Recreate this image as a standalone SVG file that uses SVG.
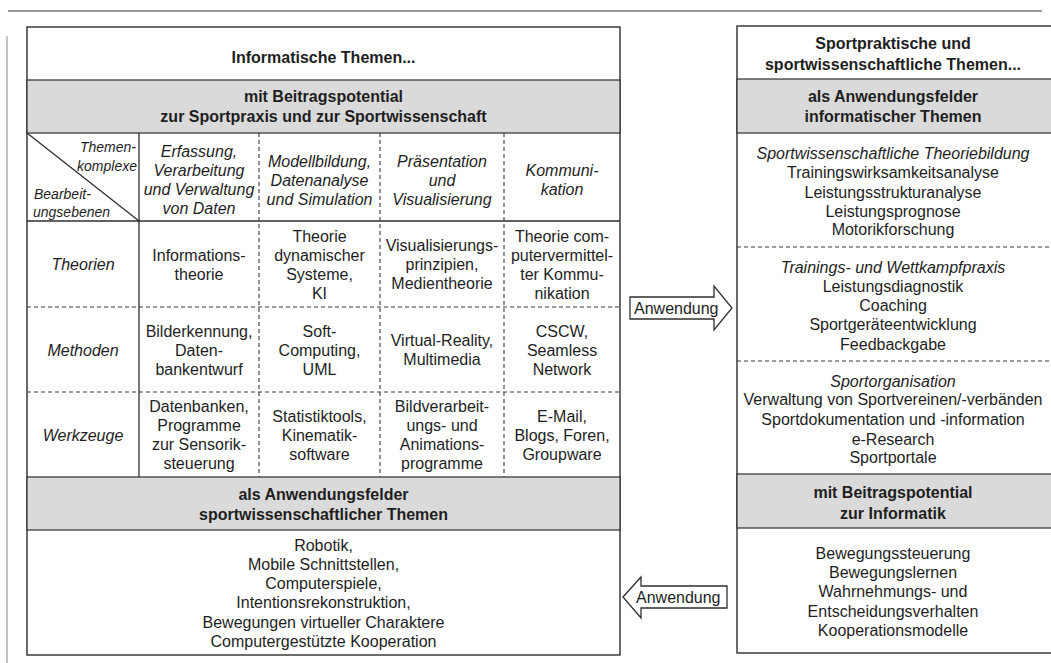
<svg xmlns="http://www.w3.org/2000/svg" width="1051" height="663" viewBox="0 0 1051 663">
<style>
text{font-family:"Liberation Sans",Arial,Helvetica,sans-serif;font-size:16px;fill:#1e1e1e;text-anchor:middle}
.b{font-weight:bold}
.i{font-style:italic}
.s{font-size:14px}
.st{text-anchor:start}
.en{text-anchor:end}
.box{fill:#fff;stroke:#2e2e2e;stroke-width:1.4}
.gray{fill:#dadada;stroke:#2e2e2e;stroke-width:1.2}
.ln{stroke:#2e2e2e;stroke-width:1.3;fill:none}
.ds{stroke:#3a3a3a;stroke-width:1.1;stroke-dasharray:4 3;fill:none}
.arr{fill:#fff;stroke:#2e2e2e;stroke-width:1.3;stroke-linejoin:miter}
.edge{stroke:#777;stroke-width:1.4;fill:none}
</style>
<rect x="0" y="0" width="1051" height="663" fill="#fff"/>
<line class="edge" x1="8" y1="11" x2="1042" y2="11"/>
<line class="edge" x1="7" y1="36" x2="7" y2="663" style="stroke:#aaa"/>

<g id="left-box">
<rect class="box" x="27" y="27" width="593" height="628"/>
<rect class="gray" x="27" y="80" width="593" height="53"/>
<rect class="gray" x="27" y="477" width="593" height="53"/>
<text class="b" x="323.5" y="63">Informatische Themen...</text>
<text class="b" x="323.5" y="102">mit Beitragspotential</text>
<text class="b" x="323.5" y="122">zur Sportpraxis und zur Sportwissenschaft</text>
<text class="b" x="323.5" y="500">als Anwendungsfelder</text>
<text class="b" x="323.5" y="520">sportwissenschaftlicher Themen</text>
<text x="323.5" y="550.5">Robotik,</text>
<text x="323.5" y="569.8">Mobile Schnittstellen,</text>
<text x="323.5" y="589.1">Computerspiele,</text>
<text x="323.5" y="608.4">Intentionsrekonstruktion,</text>
<text x="323.5" y="627.7">Bewegungen virtueller Charaktere</text>
<text x="323.5" y="647">Computergestützte Kooperation</text>
</g>

<g id="table-grid">
<line class="ln" x1="27" y1="221" x2="620" y2="221"/>
<line class="ln" x1="139" y1="133" x2="139" y2="477"/>
<line class="ln" x1="27" y1="133" x2="139" y2="221"/>
<line class="ds" x1="259" y1="133" x2="259" y2="477"/>
<line class="ds" x1="380" y1="133" x2="380" y2="477"/>
<line class="ds" x1="504" y1="133" x2="504" y2="477"/>
<line class="ds" x1="27" y1="307" x2="620" y2="307"/>
<line class="ds" x1="27" y1="392" x2="620" y2="392"/>
</g>

<g id="table-header">
<text class="i s en" x="136" y="152">Themen-</text>
<text class="i s en" x="137" y="171">komplexe</text>
<text class="i s st" x="34" y="199">Bearbeit-</text>
<text class="i s st" x="33" y="217">ungsebenen</text>
<text class="i" x="199" y="156.5">Erfassung,</text>
<text class="i" x="199" y="175.5">Verarbeitung</text>
<text class="i" x="199" y="194.5">und Verwaltung</text>
<text class="i" x="199" y="213.5">von Daten</text>
<text class="i" x="319.5" y="167">Modellbildung,</text>
<text class="i" x="319.5" y="186">Datenanalyse</text>
<text class="i" x="319.5" y="205">und Simulation</text>
<text class="i" x="442" y="167">Präsentation</text>
<text class="i" x="442" y="186">und</text>
<text class="i" x="442" y="205">Visualisierung</text>
<text class="i" x="562" y="175.5">Kommuni-</text>
<text class="i" x="562" y="194.5">kation</text>
</g>

<g id="row-theorien">
<text class="i" x="83" y="270">Theorien</text>
<text x="199" y="260.5">Informations-</text>
<text x="199" y="279.5">theorie</text>
<text x="319.5" y="241.5">Theorie</text>
<text x="319.5" y="260.5">dynamischer</text>
<text x="319.5" y="279.5">Systeme,</text>
<text x="319.5" y="298.5">KI</text>
<text x="442" y="251">Visualisierungs-</text>
<text x="442" y="270">prinzipien,</text>
<text x="442" y="289">Medientheorie</text>
<text x="562" y="241.5">Theorie com-</text>
<text x="562" y="260.5">putervermittel-</text>
<text x="562" y="279.5">ter Kommu-</text>
<text x="562" y="298.5">nikation</text>
</g>

<g id="row-methoden">
<text class="i" x="83" y="355.5">Methoden</text>
<text x="199" y="336.5">Bilderkennung,</text>
<text x="199" y="355.5">Daten-</text>
<text x="199" y="374.5">bankentwurf</text>
<text x="319.5" y="336.5">Soft-</text>
<text x="319.5" y="355.5">Computing,</text>
<text x="319.5" y="374.5">UML</text>
<text x="442" y="346">Virtual-Reality,</text>
<text x="442" y="365">Multimedia</text>
<text x="562" y="336.5">CSCW,</text>
<text x="562" y="355.5">Seamless</text>
<text x="562" y="374.5">Network</text>
</g>

<g id="row-werkzeuge">
<text class="i" x="83" y="440.5">Werkzeuge</text>
<text x="199" y="412">Datenbanken,</text>
<text x="199" y="431">Programme</text>
<text x="199" y="450">zur Sensorik-</text>
<text x="199" y="469">steuerung</text>
<text x="319.5" y="421.5">Statistiktools,</text>
<text x="319.5" y="440.5">Kinematik-</text>
<text x="319.5" y="459.5">software</text>
<text x="442" y="412">Bildverarbeit-</text>
<text x="442" y="431">ungs- und</text>
<text x="442" y="450">Animations-</text>
<text x="442" y="469">programme</text>
<text x="562" y="421.5">E-Mail,</text>
<text x="562" y="440.5">Blogs, Foren,</text>
<text x="562" y="459.5">Groupware</text>
</g>

<g id="right-box">
<rect class="box" x="737" y="26" width="320" height="627"/>
<rect class="gray" x="737" y="79" width="320" height="54"/>
<rect class="gray" x="737" y="474" width="320" height="54"/>
<line class="ds" x1="737" y1="247" x2="1051" y2="247"/>
<line class="ds" x1="737" y1="361" x2="1051" y2="361"/>
<text class="b" x="893" y="49">Sportpraktische und</text>
<text class="b" x="893" y="70">sportwissenschaftliche Themen...</text>
<text class="b" x="893" y="102">als Anwendungsfelder</text>
<text class="b" x="893" y="122">informatischer Themen</text>
<text class="i" x="893" y="158.5">Sportwissenschaftliche Theoriebildung</text>
<text x="893" y="177.5">Trainingswirksamkeitsanalyse</text>
<text x="893" y="197.5">Leistungsstrukturanalyse</text>
<text x="893" y="216.5">Leistungsprognose</text>
<text x="893" y="234.5">Motorikforschung</text>
<text class="i" x="893" y="272.5">Trainings- und Wettkampfpraxis</text>
<text x="893" y="291.5">Leistungsdiagnostik</text>
<text x="893" y="310.5">Coaching</text>
<text x="893" y="329.5">Sportgeräteentwicklung</text>
<text x="893" y="349.5">Feedbackgabe</text>
<text class="i" x="893" y="386.5">Sportorganisation</text>
<text x="893" y="404.5">Verwaltung von Sportvereinen/-verbänden</text>
<text x="893" y="424.5">Sportdokumentation und -information</text>
<text x="893" y="444.5">e-Research</text>
<text x="893" y="462.5">Sportportale</text>
<text class="b" x="893" y="497.5">mit Beitragspotential</text>
<text class="b" x="893" y="518.5">zur Informatik</text>
<text x="893" y="558.5">Bewegungssteuerung</text>
<text x="893" y="577.5">Bewegungslernen</text>
<text x="893" y="596.5">Wahrnehmungs- und</text>
<text x="893" y="616.5">Entscheidungsverhalten</text>
<text x="893" y="635.5">Kooperationsmodelle</text>
</g>

<g id="connectors">
<g id="arrow-right">
<polygon class="arr" points="630,297 714,297 714,286 732,308 714,330 714,319 630,319"/>
<text class="st" x="634" y="314">Anwendung</text>
</g>
<g id="arrow-left">
<polygon class="arr" points="623,597 641,577 641,586 727,586 727,608 641,608 641,618"/>
<text class="st" x="636" y="603">Anwendung</text>
</g>
</g>
</svg>
